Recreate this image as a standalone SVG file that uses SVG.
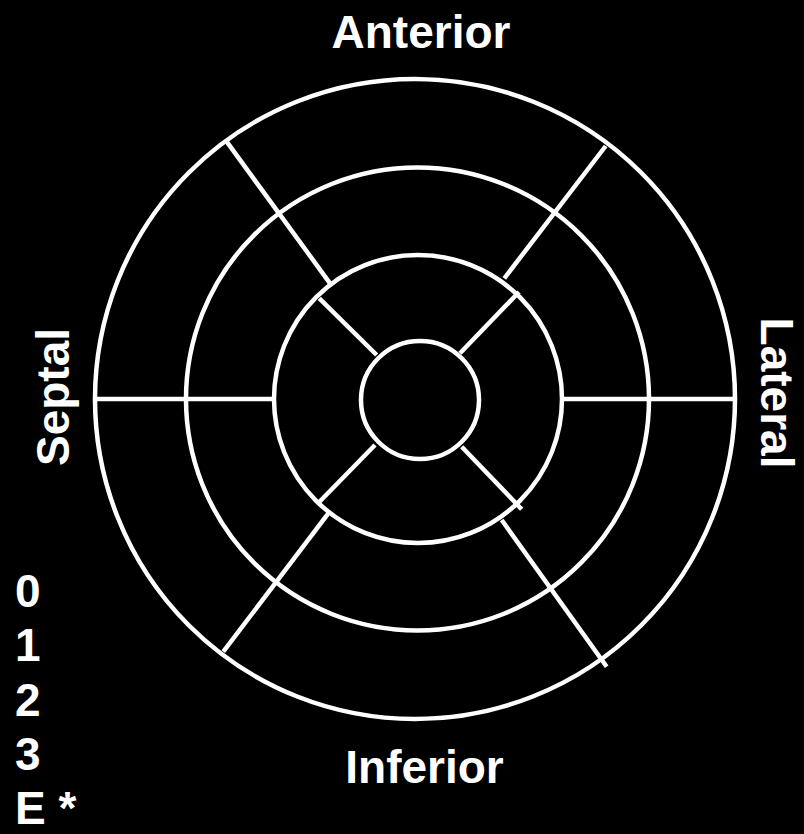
<svg xmlns="http://www.w3.org/2000/svg" width="804" height="834" viewBox="0 0 804 834">
<style>
.ring{fill:none;stroke:#fff;stroke-width:4.5}
.seg{stroke:#fff;stroke-width:4.5;stroke-linecap:butt;fill:none}
text{font-family:"Liberation Sans",Arial,sans-serif;font-weight:bold;font-size:46px;fill:#fff}
</style>
<rect width="804" height="834" fill="#000"/>
<g id="rings">
<circle id="basal" class="ring" cx="415" cy="399" r="320"/>
<circle id="mid" class="ring" cx="417.5" cy="399" r="231.5"/>
<circle id="apical" class="ring" cx="418" cy="399" r="144"/>
<circle id="apex" class="ring" cx="420" cy="400" r="59"/>
</g>
<g id="connectors">
<line class="seg" x1="95" y1="399" x2="274" y2="399"/>
<line class="seg" x1="562" y1="399" x2="735" y2="399"/>
<line class="seg" x1="226.7" y1="141.7" x2="330" y2="283.3"/>
<line class="seg" x1="605.7" y1="146" x2="504.3" y2="278.3"/>
<line class="seg" x1="223.3" y1="651.7" x2="328.3" y2="513.3"/>
<line class="seg" x1="606.7" y1="666.7" x2="501.7" y2="520"/>
<line class="seg" x1="319.3" y1="298.3" x2="376.7" y2="355"/>
<line class="seg" x1="519" y1="292" x2="460" y2="353.3"/>
<line class="seg" x1="318.3" y1="503" x2="375" y2="445"/>
<line class="seg" x1="461.7" y1="446.7" x2="521.7" y2="509.3"/>
</g>
<g id="labels">
<text x="421" y="48" text-anchor="middle">Anterior</text>
<text x="424.5" y="783" text-anchor="middle">Inferior</text>
<text transform="translate(69,397) rotate(-90)" text-anchor="middle">Septal</text>
<text transform="translate(761,393) rotate(90)" text-anchor="middle">Lateral</text>
</g>
<g id="legend">
<text x="15" y="607">0</text>
<text x="15" y="661">1</text>
<text x="15" y="716">2</text>
<text x="15" y="770">3</text>
<text x="15" y="824">E *</text>
</g>
</svg>
